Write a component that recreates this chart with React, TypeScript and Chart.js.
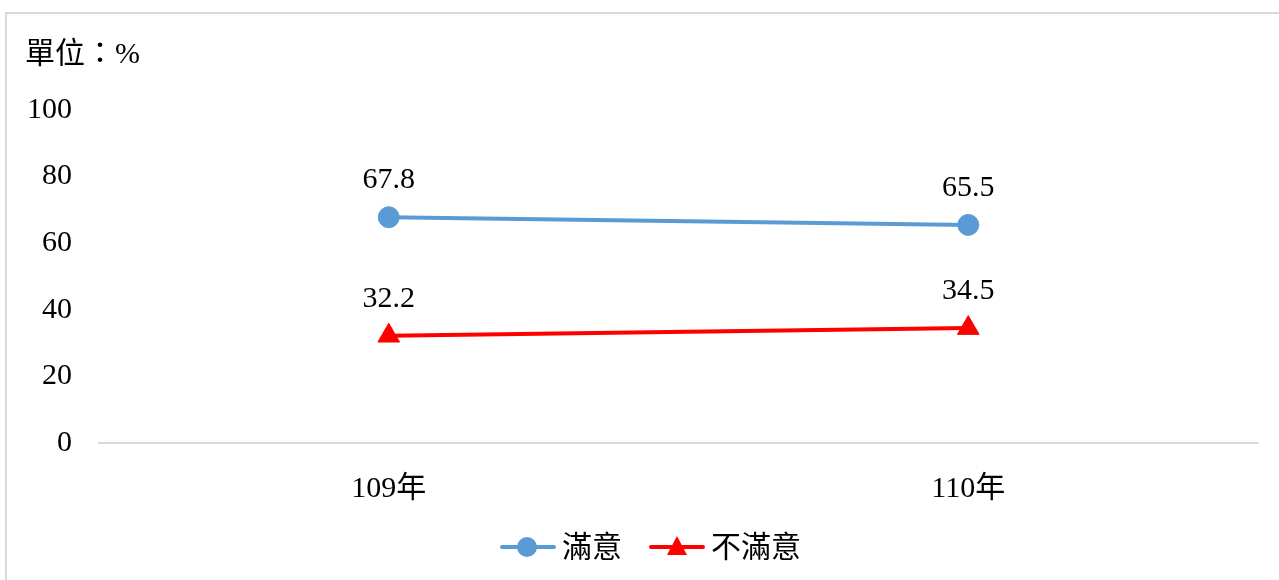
import React, { useEffect, useRef } from "react";
import { Chart, registerables } from "chart.js";

Chart.register(...registerables);

const categories = ["109年", "110年"];
const satisfied = [67.8, 65.5];
const unsatisfied = [32.2, 34.5];
const yTickValues = [0, 20, 40, 60, 80, 100];
const seriesNames = ["滿意", "不滿意"];
const unitLabel = "單位：%";

const FONT = "'Liberation Serif', 'Times New Roman', 'Noto Sans CJK TC', serif";
const FS = 30;
const BLUE = "#5B9BD5";
const RED = "#FF0000";

export default function App() {
  const ref = useRef<HTMLCanvasElement | null>(null);

  useEffect(() => {
    if (!ref.current) return;

    const extras = {
      id: "extras",
      afterDatasetsDraw(chart: any) {
        const ctx = chart.ctx;
        ctx.save();
        ctx.font = `${FS}px ${FONT}`;
        ctx.fillStyle = "#000";
        ctx.textAlign = "center";
        ctx.textBaseline = "alphabetic";
        chart.data.datasets.forEach((ds: any, i: number) => {
          const meta = chart.getDatasetMeta(i);
          meta.data.forEach((pt: any, j: number) => {
            ctx.fillText(Number(ds.data[j]).toFixed(1), pt.x, pt.y - 29);
          });
        });
        ctx.restore();
      },
      afterDraw(chart: any) {
        const ctx = chart.ctx;
        ctx.save();
        // unit label
        ctx.font = `${FS}px ${FONT}`;
        ctx.fillStyle = "#000";
        ctx.textAlign = "left";
        ctx.textBaseline = "alphabetic";
        ctx.fillText(unitLabel, 25, 63);

        // legend
        const y = 547;
        let x = 500;
        chart.data.datasets.forEach((ds: any) => {
          ctx.strokeStyle = ds.borderColor;
          ctx.lineWidth = 4;
          ctx.lineCap = "round";
          ctx.beginPath();
          ctx.moveTo(x + 2, y);
          ctx.lineTo(x + 54, y);
          ctx.stroke();
          ctx.fillStyle = ds.backgroundColor;
          ctx.beginPath();
          if (ds.pointStyle === "triangle") {
            const cx = x + 28;
            ctx.moveTo(cx, y - 11);
            ctx.lineTo(cx + 10, y + 8);
            ctx.lineTo(cx - 10, y + 8);
            ctx.closePath();
          } else {
            ctx.arc(x + 27, y, 10, 0, Math.PI * 2);
          }
          ctx.fill();
          x += 62;
          ctx.fillStyle = "#000";
          ctx.font = `${FS}px ${FONT}`;
          ctx.textBaseline = "middle";
          ctx.fillText(ds.label, x, y + 2);
          x += ctx.measureText(ds.label).width + 27;
        });
        ctx.restore();
      },
    };

    const chart = new Chart(ref.current, {
      type: "line",
      data: {
        labels: categories,
        datasets: [
          {
            label: seriesNames[0],
            data: satisfied,
            borderColor: BLUE,
            backgroundColor: BLUE,
            borderWidth: 4,
            pointStyle: "circle",
            pointRadius: 10.5,
            pointBorderWidth: 1,
            pointBackgroundColor: BLUE,
            pointBorderColor: BLUE,
          },
          {
            label: seriesNames[1],
            data: unsatisfied,
            borderColor: RED,
            backgroundColor: RED,
            borderWidth: 4,
            pointStyle: "triangle",
            pointRadius: 12.5,
            pointBorderWidth: 1,
            pointBackgroundColor: RED,
            pointBorderColor: RED,
          },
        ],
      },
      options: {
        responsive: false,
        maintainAspectRatio: false,
        animation: false,
        layout: { padding: { left: 0, right: 21, top: 110, bottom: 77 } },
        plugins: {
          legend: { display: false },
          tooltip: { enabled: false },
          title: { display: false },
        },
        scales: {
          x: {
            type: "category",
            offset: true,
            grid: { display: false, drawTicks: false },
            border: { display: true, color: "#d9d9d9", width: 2 },
            ticks: { color: "#000", font: { family: FONT, size: FS }, padding: 28 },
            afterFit(scale: any) {
              scale.height = 60;
            },
          },
          y: {
            min: 0,
            max: 100,
            grid: { display: false, drawTicks: false },
            border: { display: false },
            ticks: { color: "#000", font: { family: FONT, size: FS }, padding: 27 },
            afterBuildTicks(scale: any) {
              scale.ticks = yTickValues.map((v) => ({ value: v }));
            },
            afterFit(scale: any) {
              scale.width = 99;
            },
          },
        },
      },
      plugins: [extras],
    } as any);

    return () => chart.destroy();
  }, []);

  return (
    <div style={{ position: "fixed", inset: 0, overflow: "hidden", background: "#fff" }}>
      <div
        style={{
          position: "absolute",
          left: 5,
          top: 12,
          width: 1320,
          height: 620,
          border: "2px solid #d9d9d9",
        }}
      />
      <canvas
        ref={ref}
        width={1279}
        height={580}
        style={{ position: "absolute", left: 0, top: 0, width: 1279, height: 580 }}
      />
    </div>
  );
}
